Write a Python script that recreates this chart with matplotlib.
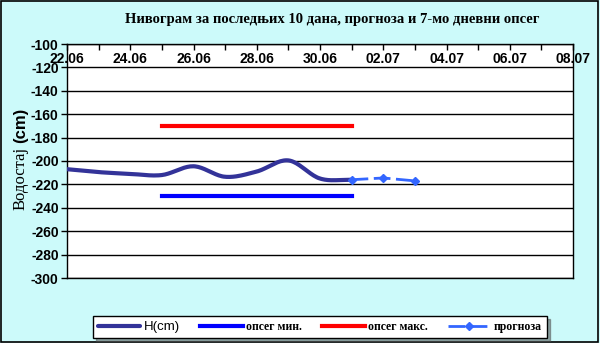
import numpy as np
import matplotlib
matplotlib.use("Agg")
import matplotlib.pyplot as plt
from matplotlib.patches import Rectangle

plt.rcParams["axes.unicode_minus"] = False

# days since 22.06
tick_labels = ["22.06", "24.06", "26.06", "28.06", "30.06", "02.07", "04.07", "06.07", "08.07"]
h_days = [0, 1, 2, 3, 4, 5, 6, 7, 8, 9]
h_values = [-207, -209.5, -211, -212, -204.5, -213.5, -209, -199.5, -215, -216]
fc_days = [9, 10, 11]
fc_values = [-216, -214.5, -217]
range_days = [3, 9]
range_min = -230
range_max = -170


def smooth(x, y, n=20):
    # Catmull-Rom curve through the points, like a spreadsheet "smoothed line"
    x = np.asarray(x, float)
    y = np.asarray(y, float)
    px = np.concatenate([[2 * x[0] - x[1]], x, [2 * x[-1] - x[-2]]])
    py = np.concatenate([[2 * y[0] - y[1]], y, [2 * y[-1] - y[-2]]])
    xs, ys = [], []
    t = np.linspace(0, 1, n, endpoint=False)
    for i in range(1, len(px) - 2):
        for arr, out in ((px, xs), (py, ys)):
            p0, p1, p2, p3 = arr[i - 1], arr[i], arr[i + 1], arr[i + 2]
            out.extend(0.5 * (2 * p1 + (-p0 + p2) * t + (2 * p0 - 5 * p1 + 4 * p2 - p3) * t ** 2
                              + (-p0 + 3 * p1 - 3 * p2 + p3) * t ** 3))
    xs.append(x[-1])
    ys.append(y[-1])
    return np.array(xs), np.array(ys)


bg = "#ccfafa"
fig = plt.figure(figsize=(6, 3.43), dpi=100, facecolor=bg)
ax = fig.add_axes([67 / 600, 1 - 278 / 343, 506 / 600, 234 / 343])
ax.set_facecolor("white")

sx, sy = smooth(h_days, h_values)
ax.plot(sx, sy, color="#333399", lw=3, solid_capstyle="round", label="H(cm)", zorder=3)
ax.plot(range_days, [range_min] * 2, color="#0000ff", lw=3, label="опсег мин.", zorder=3)
ax.plot(range_days, [range_max] * 2, color="#ff0000", lw=3, label="опсег макс.", zorder=3)
ax.plot(fc_days, fc_values, color="#3366ff", lw=2, ls=(0, (6, 2)), marker="D", ms=4,
        label="прогноза", zorder=4)

ax.set_xlim(0, 16)
ax.set_ylim(-300, -100)
ax.set_yticks(np.arange(-300, -99, 20))
ax.yaxis.grid(True, color="black", lw=1)
ax.set_axisbelow(True)
ax.xaxis.tick_top()
ax.set_xticks(np.arange(0, 17, 2))
ax.set_xticks(np.arange(0, 17, 1), minor=True)
ax.set_xticklabels(tick_labels)
ax.tick_params(axis="x", which="both", direction="in", length=4, pad=-16, width=1)
ax.tick_params(axis="y", length=4, width=1, pad=2)
for lab in ax.get_xticklabels() + ax.get_yticklabels():
    lab.set_family("Liberation Sans")
    lab.set_fontweight("bold")
    lab.set_fontsize(10)
for s in ax.spines.values():
    s.set_linewidth(1)

fig.text(332 / 600, 1 - 20 / 343, "Нивограм за последњих 10 дана, прогноза и 7-мо дневни опсег",
         ha="center", va="center", family="Liberation Serif", fontweight="bold", fontsize=10.5)
fig.text(21 / 600, 1 - 178 / 343, "Водостај", rotation=90, ha="center", va="center",
         family="Liberation Serif", fontsize=12)
fig.text(21 / 600, 1 - 125 / 343, "(cm)", rotation=90, ha="center", va="center",
         family="Liberation Sans", fontweight="bold", fontsize=12)

leg = fig.legend(loc="center", bbox_to_anchor=(320 / 600, 1 - 327 / 343), ncol=4,
                 frameon=True, fancybox=False, shadow=True,
                 handlelength=3.6, columnspacing=1.7, handletextpad=0.3,
                 borderpad=0.4, prop={"family": "Liberation Serif", "weight": "bold", "size": 8.5})
leg.get_frame().set_edgecolor("black")
leg.get_frame().set_linewidth(1)
leg.get_texts()[0].set_family("Liberation Sans")
leg.get_texts()[0].set_fontweight("normal")
leg.get_texts()[0].set_fontsize(9.5)

fig.patches.append(Rectangle((0.002, 0.004), 0.994, 0.992, transform=fig.transFigure,
                             fill=False, edgecolor="black", lw=1.2))

fig.savefig("out.png", dpi=100, facecolor=bg)
